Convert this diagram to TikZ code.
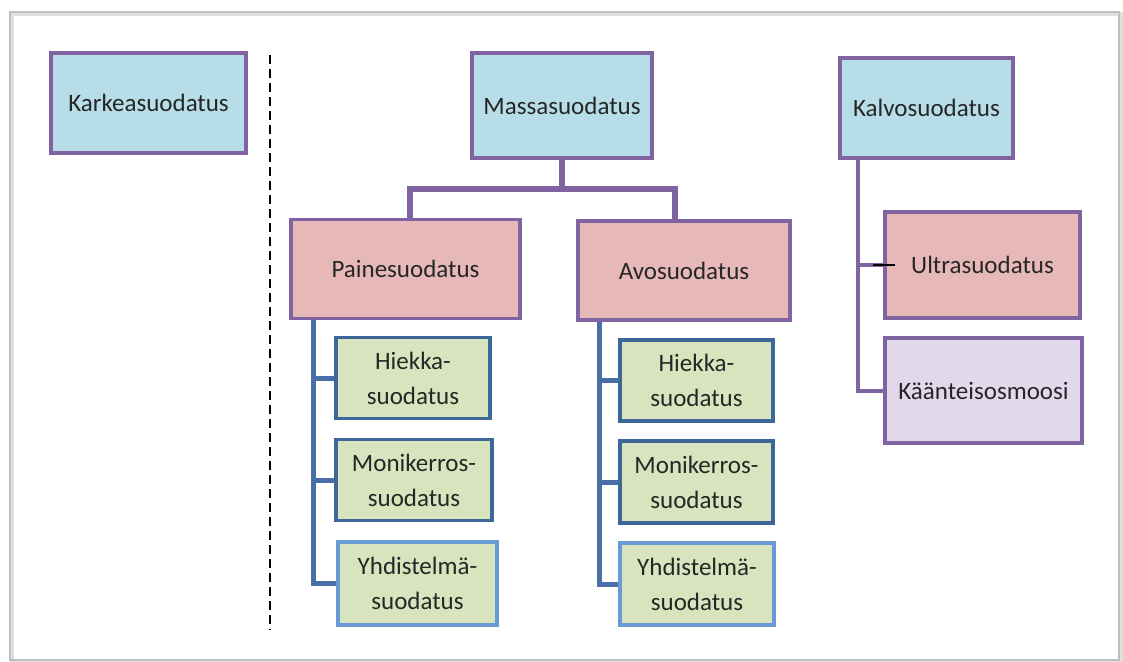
\documentclass[tikz,border=0pt]{standalone}
\usepackage{fontspec}
\setmainfont{Carlito}
\definecolor{boxpurple}{HTML}{8064A2}
\definecolor{fillblue}{HTML}{B7DEE8}
\definecolor{fillpink}{HTML}{E6B9B8}
\definecolor{fillgreen}{HTML}{D7E4BD}
\definecolor{filllilac}{HTML}{E1D8EC}
\definecolor{darkblue}{HTML}{3D6699}
\definecolor{lightblue}{HTML}{6A9AD6}
\definecolor{trunkblue}{HTML}{4A6FA8}
\definecolor{textgray}{HTML}{262626}
\tikzset{
  topbox/.style={draw=boxpurple,fill=fillblue,line width=3.5pt,minimum width=#1,minimum height=100,inner sep=0pt},
  midbox/.style={draw=boxpurple,fill=fillpink,line width=3.5pt,minimum width=#1,minimum height=99,inner sep=0pt},
  leafbox/.style={draw=darkblue,fill=fillgreen,line width=3.5pt,minimum width=#1,minimum height=81,inner sep=0pt,align=center},
  purpleline/.style={boxpurple,line width=6pt},
  blueline/.style={trunkblue,line width=5pt},
  thinpurple/.style={boxpurple,line width=4pt}
}
\begin{document}
\begin{tikzpicture}[x=1pt,y=-1pt,font=\fontsize{25}{35}\selectfont,text=textgray]
\useasboundingbox (0,0) rectangle (1123,661);
\fill[white] (0,0) rectangle (1123,661);
% frame
\draw[gray!25,line width=4pt] (12,14) rectangle (1121,662);
\draw[gray!50,line width=1.2pt] (10,12) rectangle (1119,660);
% left column
\node[topbox=195] (karkea) at (148.5,103) {Karkeasuodatus};
\draw[dashed,dash pattern=on 9pt off 5pt,line width=1.3pt] (270,55) -- (270,630);
% middle tree
\node[topbox=180,minimum height=105] (massa) at (562,105.5) {Massasuodatus};
\node[midbox=229] (paine) at (405.5,269) {Painesuodatus};
\node[midbox=212] (avo) at (684,270.5) {Avosuodatus};
\draw[purpleline] (massa.south) -- ++(0,29) coordinate (bus);
\draw[purpleline,line join=miter] ([xshift=4]paine.north) |- (bus) -| ([xshift=-9]avo.north);
\node[leafbox=154] (hiekkaA) at (413,378) {Hiekka-\\suodatus};
\node[leafbox=156] (moniA) at (414,480) {Monikerros-\\suodatus};
\node[leafbox=159,draw=lightblue,minimum height=83] (yhdA) at (417.5,583.5) {Yhdistelmä-\\suodatus};
\node[leafbox=153] (hiekkaB) at (696.5,380.5) {Hiekka-\\suodatus};
\node[leafbox=153,minimum height=82] (moniB) at (696.5,482) {Monikerros-\\suodatus};
\node[leafbox=154,draw=lightblue,minimum height=82] (yhdB) at (697,584) {Yhdistelmä-\\suodatus};
\coordinate (trunkA) at ([xshift=24]paine.south west);
\coordinate (trunkB) at ([xshift=23]avo.south west);
\draw[blueline] (trunkA) |- (yhdA.west);
\draw[blueline] (trunkB) |- (yhdB.west);
\foreach \n in {hiekkaA,moniA} \draw[blueline] (\n.west) -- (\n.west -| trunkA);
\foreach \n in {hiekkaB,moniB} \draw[blueline] (\n.west) -- (\n.west -| trunkB);
% right tree
\node[topbox=173] (kalvo) at (926.5,108) {Kalvosuodatus};
\node[midbox=195,minimum height=106] (ultra) at (982.5,265) {Ultrasuodatus};
\node[midbox=197,fill=filllilac,minimum height=105] (kaant) at (983.5,390.5) {Käänteisosmoosi};
\coordinate (trunkC) at ([xshift=-69]kalvo.south);
\draw[thinpurple] (trunkC) |- (kaant.west);
\draw[thinpurple] (ultra.west) -- (ultra.west -| trunkC);
\draw[line width=1.3pt] ([xshift=-10]ultra.west) -- ++(22,0);
\end{tikzpicture}
\end{document}
